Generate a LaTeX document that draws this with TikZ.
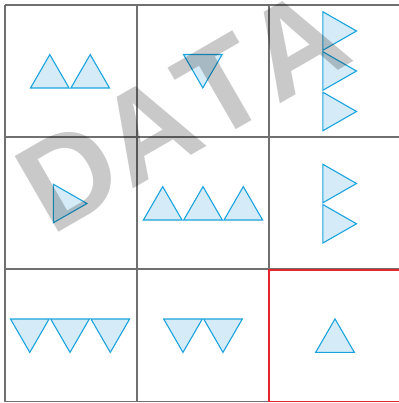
\documentclass[tikz,border=0pt]{standalone}
\usepackage{fontspec}
\setsansfont{Liberation Sans}
\newfontfamily\wmfont[Kerning=Off]{Liberation Sans}
\definecolor{tricol}{HTML}{1AA3DD}
\definecolor{trifill}{HTML}{D5ECF8}
\definecolor{gridc}{HTML}{707070}
\definecolor{redc}{HTML}{E3262B}
\newcommand\triup[2]{\path[tri] (#1-19.3,#2) -- (#1+19.3,#2) -- (#1,#2-33.4) -- cycle;}
\newcommand\tridown[2]{\path[tri] (#1-19.3,#2) -- (#1+19.3,#2) -- (#1,#2+33.4) -- cycle;}
\newcommand\triright[2]{\path[tri] (#1,#2-19.3) -- (#1,#2+19.3) -- (#1+33.7,#2) -- cycle;}
\begin{document}
\begin{tikzpicture}[x=1pt,y=-1pt,
  tri/.style={draw=tricol, fill=trifill, line width=1.1pt, line join=miter},
  gridline/.style={draw=gridc, line width=1.8pt},
  redbox/.style={draw=redc, line width=1.8pt}]
\useasboundingbox (0,0) rectangle (398,403);
% grid
\foreach \x in {5,137,269} \draw[gridline] (\x,5) -- (\x,401.5);
\foreach \y in {5,137,269,401.5} \draw[gridline] (5,\y) -- (400,\y);
% highlighted cell
\coordinate (r1) at (402,269.6);
\coordinate (r2) at (269,269.6);
\coordinate (r3) at (269,401.5);
\coordinate (r4) at (402,401.5);
\draw[redbox] (r1) -- (r2) -- (r3) -- (r4);
% cell 1
\triup{49.8}{88}
\triup{90.2}{88}
% cell 2
\tridown{202.8}{54.5}
% cell 3
\triright{322.8}{31}
\triright{322.8}{71}
\triright{322.8}{111.5}
% cell 4
\triright{53.3}{203.5}
% cell 5
\triup{162.7}{220}
\triup{203}{220}
\triup{243.3}{220}
% cell 6
\triright{322.8}{183.5}
\triright{322.8}{223.8}
% cell 7
\tridown{29.8}{319}
\tridown{70}{319}
\tridown{110.3}{319}
% cell 8
\tridown{183}{319}
\tridown{223}{319}
% cell 9
\triup{335}{352.3}
% watermark
\node[rotate=30, text=black, text opacity=0.21, inner sep=0pt,
      font=\fontsize{127}{127}\selectfont\wmfont\bfseries] (wm) at (182.4,110.4) {DATA};
\end{tikzpicture}
\end{document}
